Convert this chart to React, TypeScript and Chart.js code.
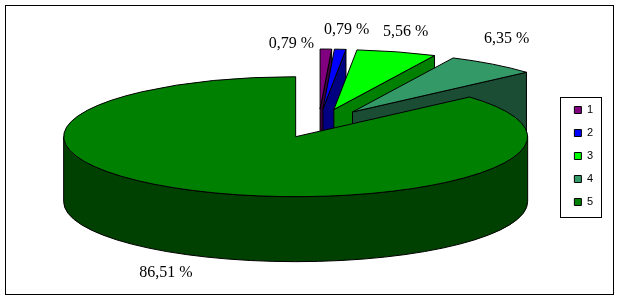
import React, { useEffect, useRef } from 'react';
import { Chart, registerables } from 'chart.js';

Chart.register(...registerables);

// ---- data ----
const categories = ['1', '2', '3', '4', '5'];
const counts = [1, 1, 7, 8, 109];
const topColors = ['#800080', '#0000FF', '#00FF00', '#339966', '#008000'];
const sideColors = ['#400040', '#000080', '#008000', '#1A4D33', '#004000'];
const explode = [56, 56, 56, 56, 56];
// small per-label nudges (style), applied after geometric placement
const labelNudge: [number, number][] = [[-35, 14.5], [5, 0], [3.5, -1], [2, -9.5], [-26, -2]];

// ---- 3D style ----
const TILT = 0.2585;
const DEPTH = 65;
const RADIUS = 232;
const LABEL_GAP = 20;

const fmtPct = (v: number, total: number) =>
  (v / total * 100).toFixed(2).replace('.', ',') + ' %';

const pie3d = {
  id: 'pie3d',
  beforeDatasetsDraw(chart: any) {
    const ctx: CanvasRenderingContext2D = chart.ctx;
    const meta = chart.getDatasetMeta(0);
    const arcs = meta.data;
    const geo = arcs.map((arc: any, i: number) => {
      const { x, y, startAngle, endAngle, outerRadius } = arc.getProps(
        ['x', 'y', 'startAngle', 'endAngle', 'outerRadius'], true);
      const mid = (startAngle + endAngle) / 2;
      const off = arc.options.offset || 0;
      const cx = x + Math.cos(mid) * off;
      const cy = y - DEPTH / 2 + Math.sin(mid) * off * TILT;
      return { i, cx, cy, a0: startAngle, a1: endAngle, mid, r: outerRadius, ry: outerRadius * TILT };
    });
    const ptOf = (g: any, t: number, lvl: number) =>
      [g.cx + g.r * Math.cos(t), g.cy + g.ry * Math.sin(t) + lvl * DEPTH];
    const order = [...geo].sort((a: any, b: any) => Math.sin(a.mid) - Math.sin(b.mid));
    ctx.save();
    ctx.lineWidth = 1;
    ctx.strokeStyle = '#000';
    ctx.lineJoin = 'miter';
    for (const g of order) {
      ctx.fillStyle = sideColors[g.i];
      for (let k = -1; k <= 1; k++) {
        const lo = Math.max(g.a0, 2 * Math.PI * k);
        const hi = Math.min(g.a1, 2 * Math.PI * k + Math.PI);
        if (hi - lo > 1e-6) {
          ctx.beginPath();
          ctx.ellipse(g.cx, g.cy, g.r, g.ry, 0, lo, hi, false);
          ctx.ellipse(g.cx, g.cy + DEPTH, g.r, g.ry, 0, hi, lo, true);
          ctx.closePath();
          ctx.fill();
          ctx.stroke();
        }
      }
      const face = (t: number) => {
        const p0 = ptOf(g, t, 0);
        const p1 = ptOf(g, t, 1);
        ctx.beginPath();
        ctx.moveTo(g.cx, g.cy);
        ctx.lineTo(p0[0], p0[1]);
        ctx.lineTo(p1[0], p1[1]);
        ctx.lineTo(g.cx, g.cy + DEPTH);
        ctx.closePath();
        ctx.fill();
        ctx.stroke();
      };
      if (Math.cos(g.a1) > 1e-6) face(g.a1);
      if (Math.cos(g.a0) < -1e-6) face(g.a0);
      ctx.fillStyle = topColors[g.i];
      ctx.beginPath();
      ctx.moveTo(g.cx, g.cy);
      ctx.ellipse(g.cx, g.cy, g.r, g.ry, 0, g.a0, g.a1, false);
      ctx.closePath();
      ctx.fill();
      ctx.stroke();
    }
    // data labels
    const total = counts.reduce((s, v) => s + v, 0);
    ctx.font = "16px 'Liberation Serif'";
    ctx.fillStyle = '#000';
    ctx.textAlign = 'center';
    ctx.textBaseline = 'middle';
    geo.forEach((g: any) => {
      const lvl = Math.sin(g.mid) > 0 ? 1 : 0;
      const p = ptOf(g, g.mid, lvl);
      const lx = p[0] + Math.cos(g.mid) * LABEL_GAP + labelNudge[g.i][0];
      const ly = p[1] + Math.sin(g.mid) * LABEL_GAP + labelNudge[g.i][1];
      ctx.fillText(fmtPct(counts[g.i], total), lx, ly);
    });
    ctx.restore();
    return false;
  },
  afterDraw(chart: any) {
    const lg = chart.legend;
    if (!lg || !lg.legendHitBoxes || !lg.legendHitBoxes.length) return;
    const hb = lg.legendHitBoxes;
    const first = hb[0];
    const last = hb[hb.length - 1];
    const ctx: CanvasRenderingContext2D = chart.ctx;
    const x0 = Math.round(lg.left) - 1.5;
    const x1 = Math.round(lg.right) - 1.5;
    const y0 = Math.round(first.top) - 7.5;
    const y1 = Math.round(last.top + last.height) + 9.5;
    ctx.save();
    ctx.strokeStyle = '#000';
    ctx.lineWidth = 1;
    ctx.strokeRect(x0, y0, x1 - x0, y1 - y0);
    ctx.restore();
  },
};

export default function App() {
  const ref = useRef<HTMLCanvasElement | null>(null);
  useEffect(() => {
    if (!ref.current) return;
    const chart = new Chart(ref.current, {
      type: 'pie',
      data: {
        labels: categories,
        datasets: [{
          data: counts,
          backgroundColor: topColors,
          borderColor: '#000',
          borderWidth: 1,
          offset: explode,
        }],
      },
      options: {
        responsive: false,
        animation: false,
        events: [],
        radius: RADIUS,
        layout: { padding: { left: 69, right: 10, top: 12, bottom: 0 } },
        plugins: {
          tooltip: { enabled: false },
          legend: {
            position: 'right',
            labels: {
              boxWidth: 7,
              boxHeight: 7,
              padding: 12,
              color: '#000',
              font: { family: "'Liberation Sans', Arial, sans-serif", size: 11 },
            },
          },
        },
      } as any,
      plugins: [pie3d as any],
    });
    return () => chart.destroy();
  }, []);
  return (
    <div style={{ position: 'absolute', left: 0, top: 0, width: 618, height: 299, background: '#fff' }}>
      <div style={{ position: 'absolute', left: 5, top: 5, width: 607, height: 288, border: '1px solid #000' }}>
        <canvas ref={ref} width={607} height={288} style={{ display: 'block' }} />
      </div>
    </div>
  );
}
